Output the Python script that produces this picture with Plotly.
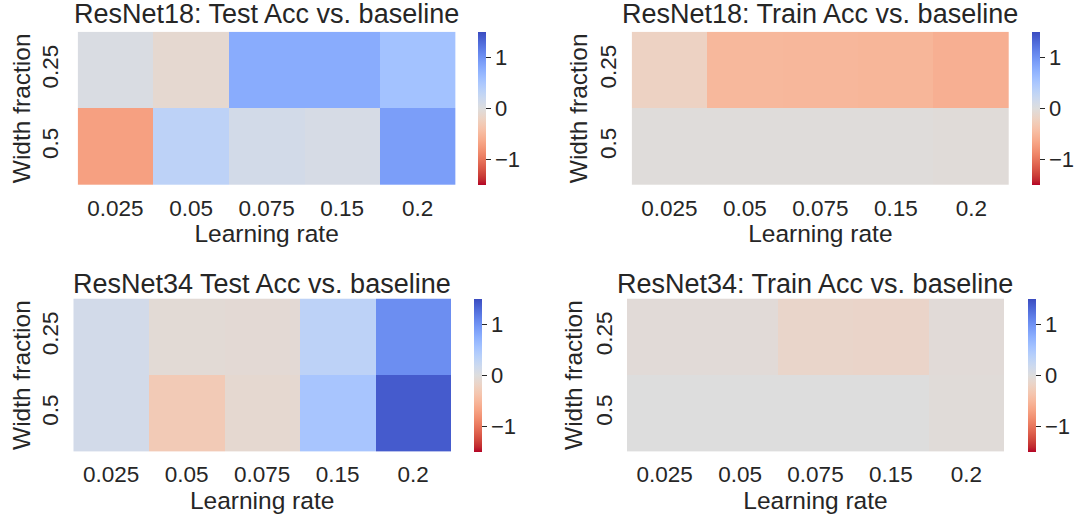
import plotly.graph_objects as go

learning_rates = ["0.025", "0.05", "0.075", "0.15", "0.2"]
width_fractions = ["0.25", "0.5"]

titles = [
    "ResNet18: Test Acc vs. baseline",
    "ResNet18: Train Acc vs. baseline",
    "ResNet34 Test Acc vs. baseline",
    "ResNet34: Train Acc vs. baseline",
]

resnet18_test = [[0.05, -0.10, 0.78, 0.78, 0.56],
                 [-0.70, 0.33, 0.12, 0.08, 0.90]]
resnet18_train = [[-0.20, -0.50, -0.51, -0.52, -0.58],
                  [-0.02, -0.02, -0.02, -0.02, -0.04]]
resnet34_test = [[0.13, -0.06, -0.07, 0.33, 1.03],
                 [0.13, -0.30, -0.10, 0.52, 1.40]]
resnet34_train = [[-0.05, -0.05, -0.15, -0.16, -0.05],
                  [0.0, 0.0, 0.0, 0.0, -0.04]]

panels = [resnet18_test, resnet18_train, resnet34_test, resnet34_train]

cw = [(59, 76, 192), (68, 90, 204), (77, 104, 215), (87, 117, 225), (98, 130, 234),
      (108, 142, 241), (119, 154, 247), (130, 165, 251), (141, 176, 254), (152, 185, 255),
      (163, 194, 255), (174, 201, 253), (184, 208, 249), (194, 213, 244), (204, 217, 238),
      (213, 219, 230), (221, 221, 221), (229, 216, 209), (236, 211, 197), (241, 204, 184),
      (245, 196, 173), (247, 187, 160), (247, 177, 148), (247, 166, 135), (244, 154, 123),
      (241, 141, 111), (236, 127, 99), (229, 112, 88), (222, 96, 77), (213, 80, 66),
      (203, 62, 56), (192, 40, 47), (180, 4, 38)]
cw_r = cw[::-1]
n = len(cw_r)
colorscale = [[i / (n - 1), "rgb(%d,%d,%d)" % c] for i, c in enumerate(cw_r)]

W, H = 1078, 521
# pixel boxes: (left, right, top, bottom, colorbar-left, title-center-y, ytick-standoff, ytitle-standoff)
boxes = [(77.7, 455.5, 31.7, 185, 478.3, 14.5, 14, 0),
         (631.7, 1009, 31.7, 185, 1031.7, 14.5, 10, 1),
         (73.3, 451, 298.5, 451.7, 474, 284, 10, 0),
         (627, 1004, 298.5, 451.7, 1027.7, 284, 10, 1)]

FONT = "Liberation Sans, Arial, sans-serif"
TXT = "#262626"

fig = go.Figure()
layout = dict(width=W, height=H, margin=dict(l=0, r=0, t=0, b=0),
              paper_bgcolor="white", plot_bgcolor="white",
              font=dict(family=FONT, color=TXT, size=22), showlegend=False)
annotations = []
for i, (z, (l, r, t, b, cbx, ty, ysd, ytsd)) in enumerate(zip(panels, boxes)):
    k = "" if i == 0 else str(i + 1)
    ca = "coloraxis" + k
    fig.add_trace(go.Heatmap(z=z, x=learning_rates, y=width_fractions, coloraxis=ca,
                             xaxis="x" + k, yaxis="y" + k))
    layout["xaxis" + k] = dict(domain=[l / W, r / W], anchor="y" + k,
                               showgrid=False, zeroline=False, ticks="",
                               ticklabelstandoff=7,
                               tickfont=dict(size=22.5),
                               title=dict(text="Learning rate", font=dict(size=24.5), standoff=5))
    layout["yaxis" + k] = dict(domain=[1 - b / H, 1 - t / H], anchor="x" + k,
                               autorange="reversed", showgrid=False, zeroline=False,
                               ticks="", tickangle=-90, ticklabelstandoff=ysd,
                               tickfont=dict(size=22.5),
                               title=dict(text="Width fraction", font=dict(size=24.5), standoff=ytsd))
    layout[ca] = dict(colorscale=colorscale, cmin=-1.5, cmax=1.5,
                      colorbar=dict(x=cbx / W, xanchor="left", xpad=0, ypad=0,
                                    y=1 - (t + b) / 2 / H, yanchor="middle",
                                    len=b - t, lenmode="pixels",
                                    thickness=7.5, thicknessmode="pixels",
                                    outlinewidth=0, ticks="outside", ticklen=5,
                                    tickcolor=TXT, tickvals=[-1, 0, 1],
                                    tickfont=dict(size=22)))
    annotations.append(dict(text=titles[i], x=(l + r) / 2 / W, y=1 - ty / H,
                            xref="paper", yref="paper", xanchor="center", yanchor="middle",
                            showarrow=False, font=dict(size=27, color=TXT)))
layout["annotations"] = annotations
fig.update_layout(**layout)
fig.write_html("out.html")
